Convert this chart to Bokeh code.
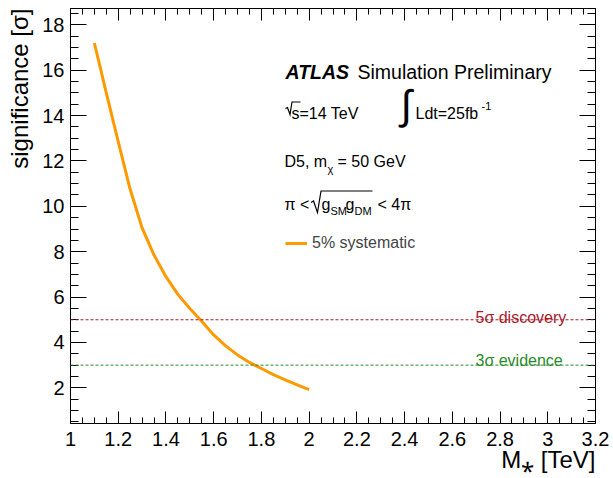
import math
from bokeh.plotting import figure
from bokeh.models import (Range1d, FixedTicker, LinearAxis, Span, Label,
                          Legend, LegendItem, Title)
from bokeh.embed import file_html
from bokeh.resources import INLINE

# ---- data ----
mass = [1.10, 1.15, 1.20, 1.25, 1.30, 1.35, 1.40, 1.45, 1.50, 1.55, 1.60,
        1.65, 1.70, 1.75, 1.80, 1.85, 1.90, 1.95, 2.00]
significance = [17.2, 15.0, 12.85, 10.75, 9.05, 7.85, 6.9, 6.12, 5.5, 4.93, 4.33,
                3.85, 3.45, 3.12, 2.85, 2.58, 2.35, 2.13, 1.92]
discovery_level = 5
evidence_level = 3
x_ticks = [1, 1.2, 1.4, 1.6, 1.8, 2, 2.2, 2.4, 2.6, 2.8, 3, 3.2]
x_tick_labels = ["1", "1.2", "1.4", "1.6", "1.8", "2", "2.2", "2.4", "2.6", "2.8", "3", "3.2"]
y_ticks = [2, 4, 6, 8, 10, 12, 14, 16, 18]
x_title = "M\u204e [TeV]"
y_title = "significance [\u03c3]"

# ---- geometry ----
W, H = 613, 478
L, R, T, B = 70, 595, 8, 423
X0, X1 = 1.0, 3.2
Y0, Y1 = 0.427, 18.72

def fx(px):
    return X0 + (px - L) / (R - L) * (X1 - X0)

def fy(py):
    return Y1 - (py - T) / (B - T) * (Y1 - Y0)

FONT = "Liberation Sans"
ORANGE = "#ff9900"
RED = "#a8182a"
GREEN = "#2a8a2a"

p = figure(width=W, height=H, output_backend="svg", toolbar_location=None,
           x_range=Range1d(X0, X1), y_range=Range1d(Y0, Y1),
           x_axis_location=None, y_axis_location=None,
           min_border_left=L, min_border_right=W - R,
           min_border_top=T, min_border_bottom=H - B)
p.grid.visible = False
p.outline_line_color = "black"
p.outline_line_width = 1
p.background_fill_color = "white"
p.border_fill_color = "white"

x_minor = [round(1 + 0.05 * i, 2) for i in range(45)]
y_minor = [0.5 * i for i in range(1, 38)]

def make_axis(kind, labels, standoff=6):
    if kind == "x":
        ax = LinearAxis(ticker=FixedTicker(ticks=x_ticks, minor_ticks=x_minor))
        tin, min_in = 12, 6
        if labels:
            ax.major_label_overrides = {t: l for t, l in zip(x_ticks, x_tick_labels)}
        else:
            ax.major_label_overrides = {t: "" for t in x_ticks}
    else:
        ax = LinearAxis(ticker=FixedTicker(ticks=y_ticks, minor_ticks=y_minor))
        tin, min_in = 16, 8
        if not labels:
            ax.major_label_overrides = {t: "" for t in y_ticks}
    ax.major_tick_in = tin
    ax.major_tick_out = 0
    ax.minor_tick_in = min_in
    ax.minor_tick_out = 0
    ax.axis_line_color = "black"
    ax.major_tick_line_color = "black"
    ax.minor_tick_line_color = "black"
    ax.major_label_text_font = FONT
    ax.major_label_text_color = "black"
    if labels:
        ax.major_label_text_font_size = "20px"
        ax.major_label_standoff = standoff
    else:
        ax.major_label_text_font_size = "1px"
        ax.major_label_standoff = 0
    return ax

p.add_layout(make_axis("x", True, 8), "below")
p.add_layout(make_axis("y", True, 6), "left")
p.add_layout(make_axis("x", False), "above")
p.add_layout(make_axis("y", False), "right")

# axis titles as side-panel titles, aligned to the axis ends
p.add_layout(Title(text=x_title, align="right", vertical_align="top",
                   text_font=FONT, text_font_size="24px", text_font_style="normal",
                   text_color="black", standoff=-5, offset=0), "below")
p.add_layout(Title(text=y_title, align="right", vertical_align="top",
                   text_font=FONT, text_font_size="24px", text_font_style="normal",
                   text_color="black", standoff=9, offset=0), "left")

# reference lines
p.add_layout(Span(location=discovery_level, dimension="width", line_color=RED,
                  line_width=1, line_dash="3 2"))
p.add_layout(Span(location=evidence_level, dimension="width", line_color=GREEN,
                  line_width=1, line_dash="3 2"))

r = p.line(mass, significance, line_color=ORANGE, line_width=3, line_join="round")

legend = Legend(items=[LegendItem(label="5% systematic", renderers=[r])],
                location=(215, 170), border_line_alpha=0, background_fill_alpha=0,
                padding=0, margin=0, glyph_width=22, glyph_height=20,
                label_height=20, label_standoff=5,
                label_text_font_size="16px", label_text_font=FONT)
p.add_layout(legend)

def lab(px, py, text, size, color="black", style="normal", align="left"):
    p.add_layout(Label(x=fx(px), y=fy(py), text=text, text_font=FONT,
                       text_font_size=f"{size}px", text_color=color,
                       text_font_style=style, text_align=align,
                       text_baseline="alphabetic"))

def stroke(pts, w=1.2):
    p.line([fx(a) for a, _ in pts], [fy(b) for _, b in pts],
           line_color="black", line_width=w, line_join="miter")

# ATLAS label
lab(285, 71, "ATLAS", 19.5, style="bold italic")
lab(357, 71, "Simulation Preliminary", 19.5)
# sqrt s
stroke([(285, 108), (287, 107), (289.5, 114), (291.5, 101.5), (300, 101.5)])
lab(291, 113, "s=14 TeV", 16)
# integral
lab(400, 104, "\u222b", 41)
lab(415, 113, "Ldt=25fb", 16)
lab(481, 105, "-1", 11)
# D5 line
lab(284, 161, "D5, m", 16)
lab(327, 168, "\u03c7", 11)
lab(337, 161, "= 50 GeV", 16)
# coupling line
lab(284, 204, "\u03c0 <", 16)
stroke([(310.5, 202), (313, 200.5), (317, 212), (320.5, 190.5), (372, 190.5)])
lab(321, 204, "g", 16)
lab(330, 210, "SM", 11)
lab(345, 204, "g", 16)
lab(354, 210, "DM", 11)
lab(377, 204, "< 4\u03c0", 16)
# reference line labels
lab(475, 316.7, "5\u03c3 discovery", 16, color=RED)
lab(475, 360, "3\u03c3 evidence", 16, color=GREEN)

open("out.html", "w").write(file_html(p, INLINE))
